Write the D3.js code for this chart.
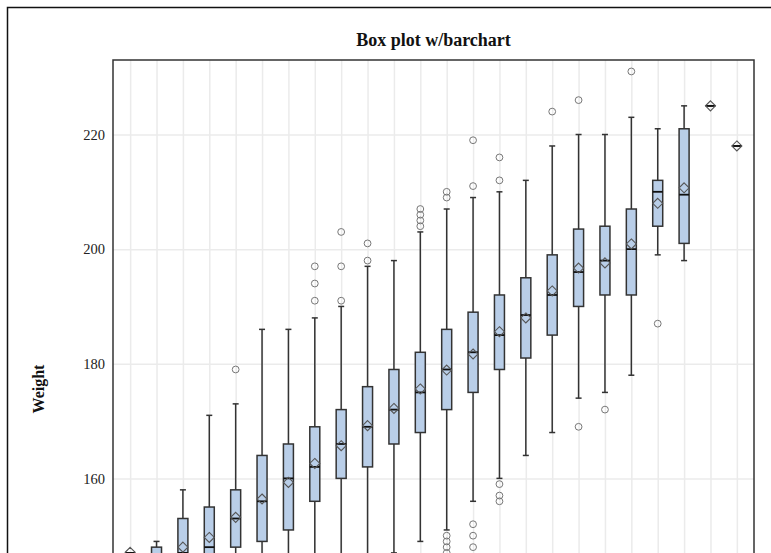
<!DOCTYPE html>
<html>
<head>
<meta charset="utf-8">
<script src="https://cdn.jsdelivr.net/npm/d3@7/dist/d3.min.js"></script>
<style>
  html, body { margin: 0; padding: 0; background: #fff; overflow: hidden; }
  svg { display: block; font-family: "Liberation Serif", "Times New Roman", serif; }
</style>
</head>
<body>
<svg id="chart" width="771" height="553"></svg>
<script>
// Height groups (inches) and the weight distribution of each group
const categories = ["56","57","58","59","60","61","62","63","64","65","66","67",
                    "68","69","70","71","72","73","74","75","76","77","78","79"];
const whiskerLow  = [147, 140, 138, 135, 134, 132, 135, 138, 142, 145, 147, 149,
                     151, 156, 160, 164, 168, 174, 175, 178, 199, 198, 225, 218];
const q1Values    = [147, 142, 143, 142, 148, 149, 151, 156, 160, 162, 166, 168,
                     172, 175, 179, 181, 185, 190, 192, 192, 204, 201, 225, 218];
const medianValues= [147, 145, 147, 148, 153, 156, 160, 162, 166, 169, 172, 175,
                     179, 182, 185, 188.5, 192, 196, 198, 200, 210, 209.5, 225, 218];
const q3Values    = [147, 148, 153, 155, 158, 164, 166, 169, 172, 176, 179, 182,
                     186, 189, 192, 195, 199, 203.5, 204, 207, 212, 221, 225, 218];
const whiskerHigh = [147, 149, 158, 171, 173, 186, 186, 188, 190, 197, 198, 203,
                     207, 209, 210, 212, 218, 220, 220, 223, 221, 225, 225, 218];
const meanValues  = [147.1, 145, 148, 149.7, 153.2, 156.4, 159.3, 162.6, 165.7, 169.2, 172.2, 175.6,
                     178.9, 181.7, 185.6, 188, 192.7, 196.7, 197.6, 200.9, 208, 210.7, 225, 218];
const outlierValues = [
  [], [], [], [], [179], [], [], [191, 194, 197], [191, 197, 203], [198, 201], [], [204, 205, 206, 207],
  [146, 147, 148, 149, 150, 209, 210], [148, 150, 152, 211, 219], [156, 157, 159, 212, 216], [], [224],
  [169, 226], [172], [231], [187], [], [], []
];
const yTicks = [160, 180, 200, 220];
const yMin = 140, yMax = 233;

const chartTitle = "Box plot w/barchart";
const yLabel = "Weight";

const plot = { left: 113, right: 754, top: 60, bottom: 593 };
const svg = d3.select("#chart");

const x = d3.scalePoint().domain(categories).range([plot.left, plot.right]).padding(0.65);
const y = d3.scaleLinear().domain([yMin, yMax]).range([plot.bottom, plot.top]);

const rows = categories.map((c, i) => ({
  cat: c, lo: whiskerLow[i], q1: q1Values[i], med: medianValues[i], q3: q3Values[i],
  hi: whiskerHigh[i], mean: meanValues[i], out: outlierValues[i]
}));

// Outer graph border
svg.append("rect")
  .attr("x", 7.5).attr("y", 7.5).attr("width", 900).attr("height", 800)
  .attr("fill", "none").attr("stroke", "#111").attr("stroke-width", 1.5);

// Title
svg.append("text")
  .attr("x", (plot.left + plot.right) / 2).attr("y", 46)
  .attr("text-anchor", "middle")
  .attr("font-size", 18).attr("font-weight", "bold").attr("fill", "#111")
  .text(chartTitle);

// Horizontal grid + tick labels
const yAxis = svg.append("g")
  .attr("transform", `translate(${plot.left},0)`)
  .call(d3.axisLeft(y).tickValues(yTicks).tickSize(-(plot.right - plot.left)).tickPadding(8));
yAxis.select(".domain").remove();
yAxis.selectAll(".tick line").attr("stroke", "#ebebeb").attr("stroke-width", 1.5);
yAxis.selectAll(".tick text")
  .attr("font-family", "Liberation Serif, serif").attr("font-size", 14.5).attr("fill", "#222");

// Vertical grid at each category
const xGrid = svg.append("g")
  .attr("transform", `translate(0,${plot.bottom})`)
  .call(d3.axisBottom(x).tickSize(-(plot.bottom - plot.top)).tickFormat(""));
xGrid.select(".domain").remove();
xGrid.selectAll(".tick line").attr("stroke", "#ebebeb").attr("stroke-width", 1.5);

// Y axis label
svg.append("text")
  .attr("transform", `translate(43.5,389) rotate(-90)`)
  .attr("text-anchor", "middle")
  .attr("font-size", 16).attr("font-weight", "bold").attr("fill", "#111")
  .text(yLabel);

const boxW = 10, capW = 6, dia = 5;
const boxes = svg.append("g").selectAll("g").data(rows).join("g")
  .attr("transform", d => `translate(${x(d.cat)},0)`);

// Whiskers
boxes.append("line")
  .attr("x1", 0).attr("x2", 0)
  .attr("y1", d => y(d.lo)).attr("y2", d => y(d.hi))
  .attr("stroke", "#333").attr("stroke-width", 1.5);
boxes.append("line")
  .attr("x1", -capW / 2).attr("x2", capW / 2)
  .attr("y1", d => y(d.hi)).attr("y2", d => y(d.hi))
  .attr("stroke", "#333").attr("stroke-width", 1.5);
boxes.append("line")
  .attr("x1", -capW / 2).attr("x2", capW / 2)
  .attr("y1", d => y(d.lo)).attr("y2", d => y(d.lo))
  .attr("stroke", "#333").attr("stroke-width", 1.5);

// Interquartile boxes
boxes.append("rect")
  .attr("x", -boxW / 2).attr("width", boxW)
  .attr("y", d => y(d.q3)).attr("height", d => y(d.q1) - y(d.q3))
  .attr("fill", "#b9cee8").attr("stroke", "#333").attr("stroke-width", 1.5);

// Medians
boxes.append("line")
  .attr("x1", -boxW / 2).attr("x2", boxW / 2)
  .attr("y1", d => y(d.med)).attr("y2", d => y(d.med))
  .attr("stroke", "#111").attr("stroke-width", 1.8);

// Means
boxes.append("path")
  .attr("d", d => {
    const cy = y(d.mean);
    return `M0,${cy - dia}L${dia},${cy}L0,${cy + dia}L${-dia},${cy}Z`;
  })
  .attr("fill", "none").attr("stroke", "#555").attr("stroke-width", 1.1);

// Outliers
boxes.selectAll("circle").data(d => d.out).join("circle")
  .attr("cx", 0).attr("cy", v => y(v)).attr("r", 3.4)
  .attr("fill", "none").attr("stroke", "#777").attr("stroke-width", 1);

// Plot frame
svg.append("rect")
  .attr("x", plot.left).attr("y", plot.top)
  .attr("width", plot.right - plot.left).attr("height", plot.bottom - plot.top)
  .attr("fill", "none").attr("stroke", "#333").attr("stroke-width", 1.5);
</script>
</body>
</html>
